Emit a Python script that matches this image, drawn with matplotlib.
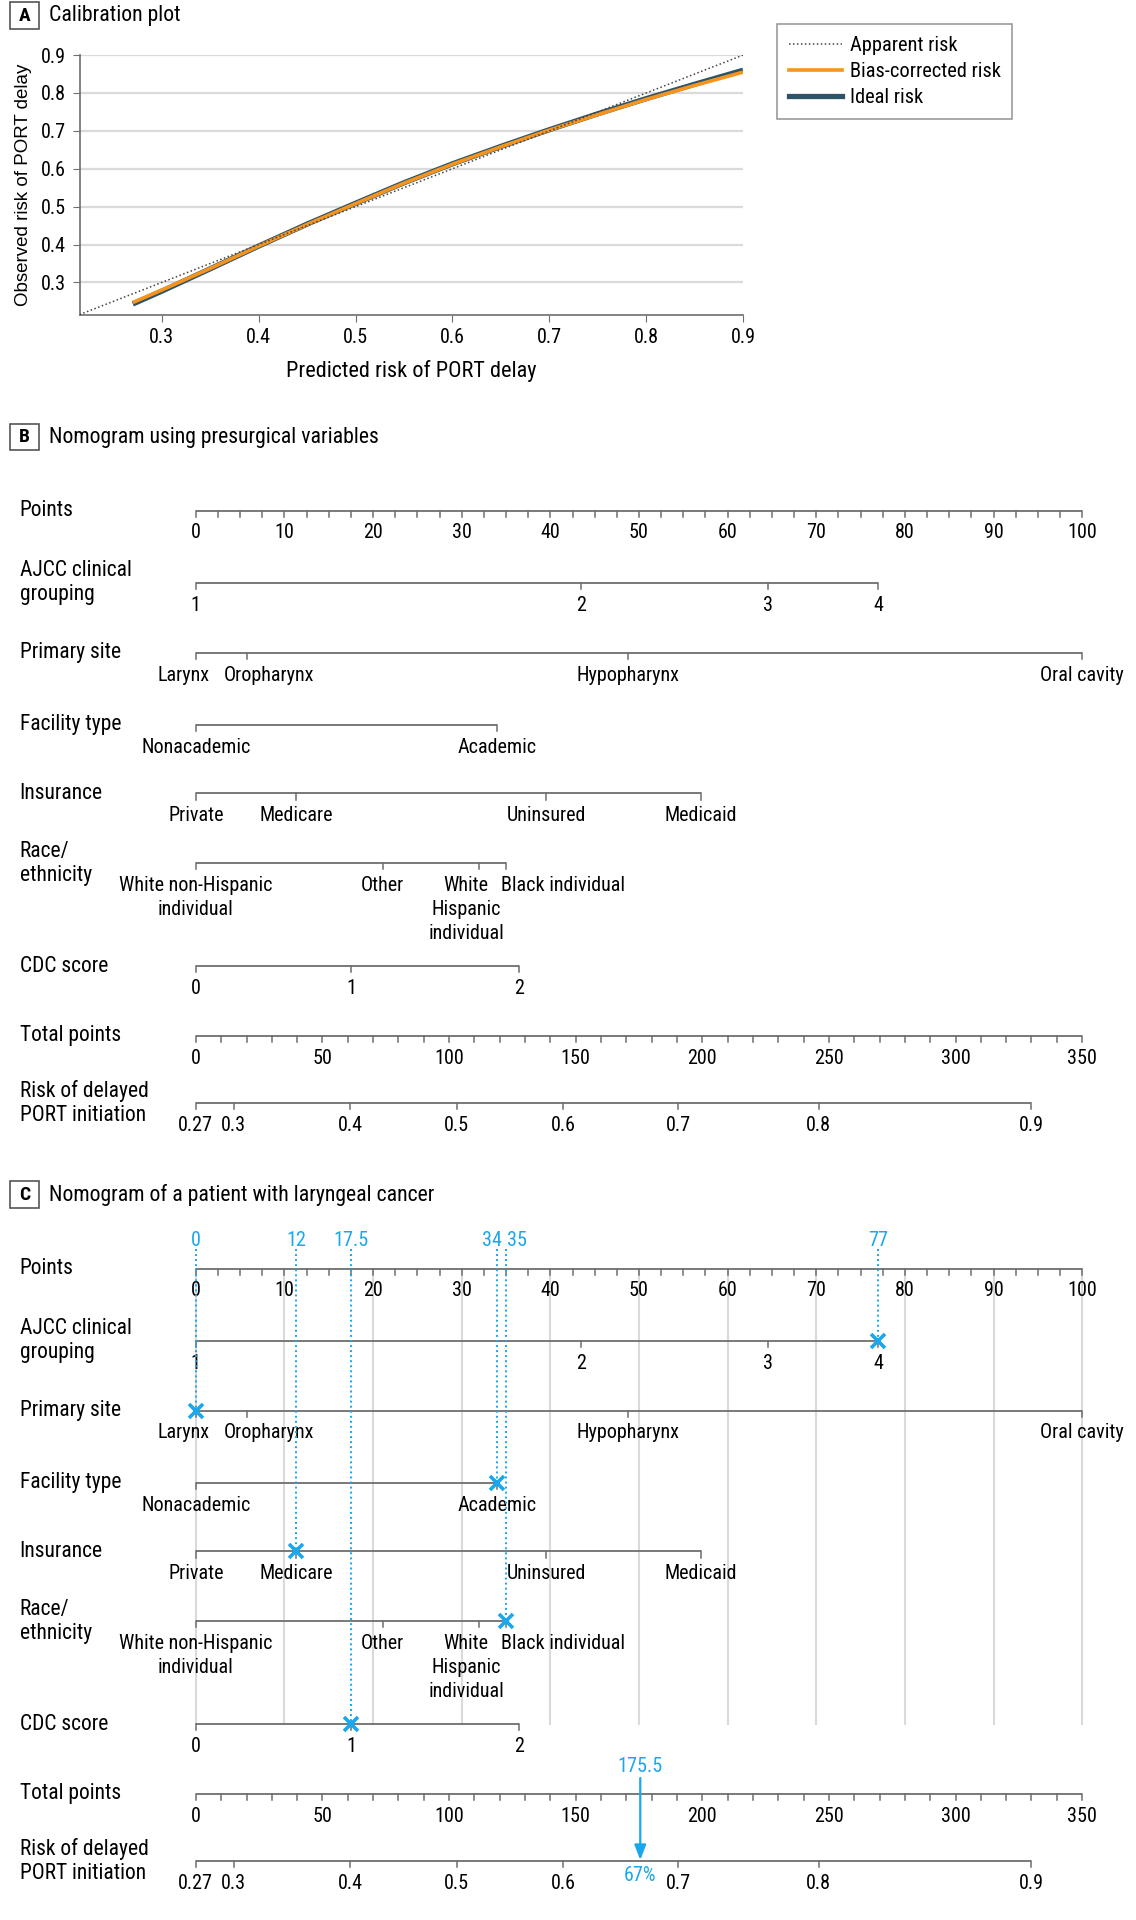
import matplotlib
matplotlib.use('Agg')
import matplotlib.pyplot as plt
from matplotlib import font_manager
from matplotlib.patches import Rectangle
from matplotlib.transforms import blended_transform_factory
from matplotlib.lines import Line2D
import numpy as np

names = {f.name for f in font_manager.fontManager.ttflist}
CANDS = ['Roboto Condensed', 'Liberation Sans Narrow', 'Roboto']
FONT = next((f for f in CANDS if f in names), 'DejaVu Sans')
plt.rcParams['font.family'] = [FONT, 'DejaVu Sans']

# ---------------- data: panel A (calibration) ----------------
pred_risk = [0.27, 0.30, 0.35, 0.40, 0.45, 0.50, 0.55, 0.60, 0.65, 0.70, 0.75, 0.80, 0.85, 0.90]
bias_corrected = [0.247, 0.280, 0.337, 0.396, 0.453, 0.508, 0.562, 0.612, 0.658, 0.702, 0.743, 0.783, 0.820, 0.855]
ideal_risk = [0.243, 0.277, 0.336, 0.396, 0.454, 0.509, 0.563, 0.613, 0.659, 0.703, 0.745, 0.785, 0.823, 0.860]
apparent_risk = [0.215, 0.90]
calib_ticks = [0.3, 0.4, 0.5, 0.6, 0.7, 0.8, 0.9]

# ---------------- data: nomogram ----------------
points_ticks = [0, 10, 20, 30, 40, 50, 60, 70, 80, 90, 100]
ajcc_labels = ['1', '2', '3', '4']
ajcc_pts = [0, 43.5, 64.5, 77]
site_labels = ['Larynx', 'Oropharynx', 'Hypopharynx', 'Oral cavity']
site_pts = [0, 5.8, 48.8, 100]
facility_labels = ['Nonacademic', 'Academic']
facility_pts = [0, 34]
insurance_labels = ['Private', 'Medicare', 'Uninsured', 'Medicaid']
insurance_pts = [0, 11.35, 39.5, 57]
race_labels = ['White non-Hispanic\nindividual', 'Other', 'White\nHispanic\nindividual', 'Black individual']
race_pts = [0, 21.1, 32.0, 35]
cdc_labels = ['0', '1', '2']
cdc_pts = [0, 17.5, 36.5]
total_ticks = [0, 50, 100, 150, 200, 250, 300, 350]
risk_labels = ['0.27', '0.3', '0.4', '0.5', '0.6', '0.7', '0.8', '0.9']
risk_total = [0, 15, 61, 103, 145, 190.5, 246, 330]
# patient in panel C: chosen category index and the points printed for it
patient_vars = ['ajcc', 'site', 'facility', 'insurance', 'race', 'cdc']
patient_index = [3, 0, 1, 1, 3, 1]
patient_points = ['77', '0', '34', '12', '35', '17.5']
patient_total = 175.5
patient_risk = '67%'

# ---------------- style ----------------
GREY = '#6e6e6e'
BLUE = '#1AA7EC'
GRID = '#dadada'
FS = 15.5      # row labels
TFS = 14.5     # tick labels

W, H = 1136, 1920
S = W / 928.0   # reference layout units -> pixels
fig = plt.figure(figsize=(W / 100, H / 100), dpi=100)

def fx(x): return x * S / W
def fy(y): return 1 - y * S / H

def panel_label(letter, title, y):
    fig.patches.append(Rectangle((fx(8), fy(y + 11)), fx(32) - fx(8), fy(y - 11) - fy(y + 11),
                                 transform=fig.transFigure, fill=False, ec='#555555', lw=1.2))
    fig.text(fx(20), fy(y), letter, ha='center', va='center', fontsize=14, fontweight='bold')
    fig.text(fx(40), fy(y), title, ha='left', va='center', fontsize=15.7)

# ---------------- panel A ----------------
panel_label('A', 'Calibration plot', 13)
ax = fig.add_axes([fx(65), fy(257), fx(607) - fx(65), fy(45) - fy(257)])
ax.set_xlim(0.215, 0.9)
ax.set_ylim(0.215, 0.9)
for t in calib_ticks:
    ax.axhline(t, color=GRID, lw=1.6, zorder=0)
ax.plot(apparent_risk, apparent_risk, ls=(0, (1, 1.6)), color='#444444', lw=1.1, zorder=3)
ax.plot(pred_risk, ideal_risk, color='#2C5466', lw=3.8, solid_capstyle='butt', zorder=1)
ax.plot(pred_risk, bias_corrected, color='#F7941D', lw=2.6, solid_capstyle='butt', zorder=2)
ax.set_xticks(calib_ticks)
ax.set_yticks(calib_ticks)
ax.set_xticklabels([f'{t:g}' for t in calib_ticks], fontsize=TFS)
ax.set_yticklabels([f'{t:g}' for t in calib_ticks], fontsize=TFS)
for s in ['top', 'right']:
    ax.spines[s].set_visible(False)
for s in ['left', 'bottom']:
    ax.spines[s].set_color(GREY)
    ax.spines[s].set_linewidth(1.2)
ax.tick_params(length=5, color=GREY, pad=5)
ax.set_xlabel('Predicted risk of PORT delay', fontsize=16, labelpad=9)
ax.set_ylabel('Observed risk of PORT delay', fontsize=13.5, family=['Liberation Sans', 'DejaVu Sans'], labelpad=6)
handles = [Line2D([], [], ls=(0, (1, 1.6)), color='#444444', lw=1.1),
           Line2D([], [], color='#F7941D', lw=2.6),
           Line2D([], [], color='#2C5466', lw=3.8)]
leg = fig.legend(handles, ['Apparent risk', 'Bias-corrected risk', 'Ideal risk'],
                 loc='upper left', bbox_to_anchor=(fx(635), fy(20)), fontsize=14.7,
                 frameon=True, fancybox=False, edgecolor='#777777', handlelength=2.6,
                 handletextpad=0.4, labelspacing=0.36, borderpad=0.55, borderaxespad=0)
leg.get_frame().set_linewidth(1.1)

# ---------------- nomogram panels ----------------
P0, PX = 160.0, 7.24
nax = fig.add_axes([0, 0, 1, 1], zorder=-1)
nax.set_xlim(-P0 / PX, (928 - P0) / PX)
nax.set_ylim(1568, 0)
nax.axis('off')
lab_tr = blended_transform_factory(fig.transFigure, nax.transData)

ROWS = {'points': 417, 'ajcc': 476, 'site': 533, 'facility': 592, 'insurance': 648,
        'race': 705, 'cdc': 789, 'total': 846, 'risk': 901}
ROW_NAMES = {'points': 'Points', 'ajcc': 'AJCC clinical\ngrouping', 'site': 'Primary site',
             'facility': 'Facility type', 'insurance': 'Insurance', 'race': 'Race/\nethnicity',
             'cdc': 'CDC score', 'total': 'Total points', 'risk': 'Risk of delayed\nPORT initiation'}
VARS = {'ajcc': (ajcc_pts, ajcc_labels), 'site': (site_pts, site_labels),
        'facility': (facility_pts, facility_labels), 'insurance': (insurance_pts, insurance_labels),
        'race': (race_pts, race_labels), 'cdc': (cdc_pts, cdc_labels)}
# label nudges (in points units) and alignment for crowded labels
NUDGE = {('site', 'Larynx'): (-1.4, 'center'), ('site', 'Oropharynx'): (2.5, 'center'),
         ('race', 'White\nHispanic\nindividual'): (-1.5, 'center'),
         ('race', 'Black individual'): (-0.55, 'left')}
TICK = 5.0
LBL = 10.5

def hline(x0, x1, y):
    nax.plot([x0, x1], [y, y], color=GREY, lw=1.3, solid_capstyle='butt', zorder=2)

def ticks(xs, y, length=TICK):
    for x in xs:
        nax.plot([x, x], [y, y + length], color=GREY, lw=1.1, zorder=2)

def draw_nomogram(off, patient=False):
    for key, name in ROW_NAMES.items():
        nax.text(fx(16), ROWS[key] + off, name, transform=lab_tr, ha='left', va='center',
                 fontsize=FS, linespacing=1.2)
    # points axis
    y = ROWS['points'] + off
    hline(0, 100, y)
    ticks(np.arange(0, 100.01, 2.5), y)
    for t in points_ticks:
        nax.text(t, y + LBL, f'{t}', ha='center', va='top', fontsize=TFS)
    # variables
    for key, (pts, labs) in VARS.items():
        y = ROWS[key] + off
        hline(min(pts), max(pts), y)
        ticks(pts, y)
        for p, l in zip(pts, labs):
            dx, ha = NUDGE.get((key, l), (0, 'center'))
            nax.text(p + dx, y + LBL, l, ha=ha, va='top', fontsize=TFS, linespacing=1.32)
    # total points axis (points scale = total/3.5)
    y = ROWS['total'] + off
    hline(0, total_ticks[-1] / 3.5, y)
    ticks(np.arange(0, 350.01, 10) / 3.5, y)
    for t in total_ticks:
        nax.text(t / 3.5, y + LBL, f'{t}', ha='center', va='top', fontsize=TFS)
    # risk axis
    y = ROWS['risk'] + off
    hline(0, risk_total[-1] / 3.5, y)
    ticks(np.array(risk_total) / 3.5, y)
    for t, l in zip(risk_total, risk_labels):
        nax.text(t / 3.5, y + LBL, l, ha='center', va='top', fontsize=TFS)

    if patient:
        ytop = ROWS['points'] + off
        ybot = ROWS['cdc'] + off
        for t in points_ticks:
            nax.plot([t, t], [ytop, ybot], color=GRID, lw=1.5, zorder=0)
        for key, idx, lab in zip(patient_vars, patient_index, patient_points):
            p = VARS[key][0][idx]
            yr = ROWS[key] + off
            nax.plot([p, p], [ytop - 16, yr], ls=(0, (1, 1.6)), color=BLUE, lw=1.4, zorder=3)
            nax.plot([p], [yr], marker='x', ms=10, mew=2.6, color=BLUE, zorder=4)
            ha, dx = 'center', 0
            if lab == '34':
                ha, dx = 'right', 0.55
            elif lab == '35':
                ha, dx = 'left', 0.1
            nax.text(p + dx, ytop - 23, lab, ha=ha, va='center', color=BLUE, fontsize=TFS)
        tp = patient_total / 3.5
        yt = ROWS['total'] + off
        yr = ROWS['risk'] + off
        nax.text(tp, yt - 22, f'{patient_total:g}', ha='center', va='center', color=BLUE, fontsize=TFS)
        nax.annotate('', xy=(tp, yr - 1), xytext=(tp, yt - 13),
                     arrowprops=dict(arrowstyle='-|>,head_length=0.9,head_width=0.35', color=BLUE,
                                     lw=1.6, shrinkA=0, shrinkB=0), zorder=4)
        nax.text(tp, yr + 12, patient_risk, ha='center', va='center', color=BLUE, fontsize=TFS)

panel_label('B', 'Nomogram using presurgical variables', 357)
draw_nomogram(0)
panel_label('C', 'Nomogram of a patient with laryngeal cancer', 976)
draw_nomogram(619, patient=True)

fig.savefig('out.png', dpi=100)
